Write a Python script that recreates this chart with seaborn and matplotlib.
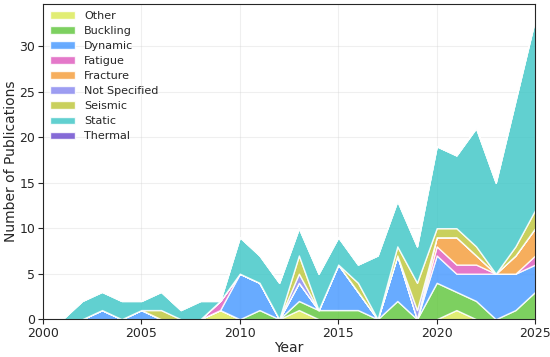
import matplotlib
matplotlib.use("Agg")

import matplotlib.pyplot as plt
import seaborn as sns

years = [2001, 2002, 2003, 2004, 2005, 2006, 2007, 2008, 2009, 2010, 2011, 2012, 2013,
         2014, 2015, 2016, 2017, 2018, 2019, 2020, 2021, 2022, 2023, 2024, 2025]

kategorie = ["Other", "Buckling", "Dynamic", "Fatigue", "Fracture",
             "Not Specified", "Seismic", "Static", "Thermal"]

other =         [0, 0, 0, 0, 0, 0, 0, 0, 1, 0, 0, 0, 1, 0, 0, 0, 0, 0, 0, 0, 1, 0, 0, 0, 0]
buckling =      [0, 0, 0, 0, 0, 0, 0, 0, 0, 0, 1, 0, 1, 1, 1, 1, 0, 2, 0, 4, 2, 2, 0, 1, 3]
dynamic =       [0, 0, 1, 0, 1, 0, 0, 0, 0, 5, 3, 0, 2, 0, 5, 2, 0, 5, 0, 3, 2, 3, 5, 4, 3]
fatigue =       [0, 0, 0, 0, 0, 0, 0, 0, 1, 0, 0, 0, 0, 0, 0, 0, 0, 0, 0, 1, 1, 1, 0, 0, 1]
fracture =      [0, 0, 0, 0, 0, 0, 0, 0, 0, 0, 0, 0, 0, 0, 0, 0, 0, 0, 0, 1, 3, 1, 0, 2, 3]
not_specified = [0, 0, 0, 0, 0, 0, 0, 0, 0, 0, 0, 0, 1, 0, 0, 0, 0, 0, 1, 0, 0, 0, 0, 0, 0]
seismic =       [0, 0, 0, 0, 0, 1, 0, 0, 0, 0, 0, 0, 2, 0, 0, 1, 0, 1, 3, 1, 1, 1, 0, 1, 2]
static =        [0, 2, 2, 2, 1, 2, 1, 2, 0, 4, 3, 4, 3, 4, 3, 2, 7, 5, 4, 9, 8, 13, 10, 16, 21]
thermal =       [0, 0, 0, 0, 0, 0, 0, 0, 0, 0, 0, 0, 0, 0, 0, 0, 0, 0, 0, 0, 0, 0, 0, 0, 0]

kolory = ["#dcea5c", "#66c844", "#4d9cff", "#e060c0", "#f5a040",
          "#8c8cf0", "#c0c840", "#45c8c8", "#7050d0"]

sns.set_style("ticks")
sns.set_palette(kolory)
plt.rcParams["font.family"] = ["DejaVu Sans"]

fig = plt.figure(figsize=(5.5, 3.57), dpi=100)
ax = fig.add_axes([0.078, 0.106, 0.895, 0.883])

ax.stackplot(years, other, buckling, dynamic, fatigue, fracture,
             not_specified, seismic, static, thermal,
             labels=kategorie, colors=sns.color_palette(kolory), alpha=0.85)

ax.set_xlim(2000, 2025)
ax.set_ylim(0, 34.65)
ax.set_xticks([2000, 2005, 2010, 2015, 2020, 2025])
ax.set_yticks([0, 5, 10, 15, 20, 25, 30])
ax.tick_params(labelsize=9, pad=2)
ax.grid(True, alpha=0.3)
ax.set_xlabel("Year", fontsize=10, labelpad=1)
ax.set_ylabel("Number of Publications", fontsize=10, labelpad=1)

ax.legend(loc="upper left", fontsize=8, labelspacing=0.46,
          handlelength=2.3, borderaxespad=0.2, frameon=False)

for s in ax.spines.values():
    s.set_visible(True)

plt.savefig("out.png", dpi=100)
